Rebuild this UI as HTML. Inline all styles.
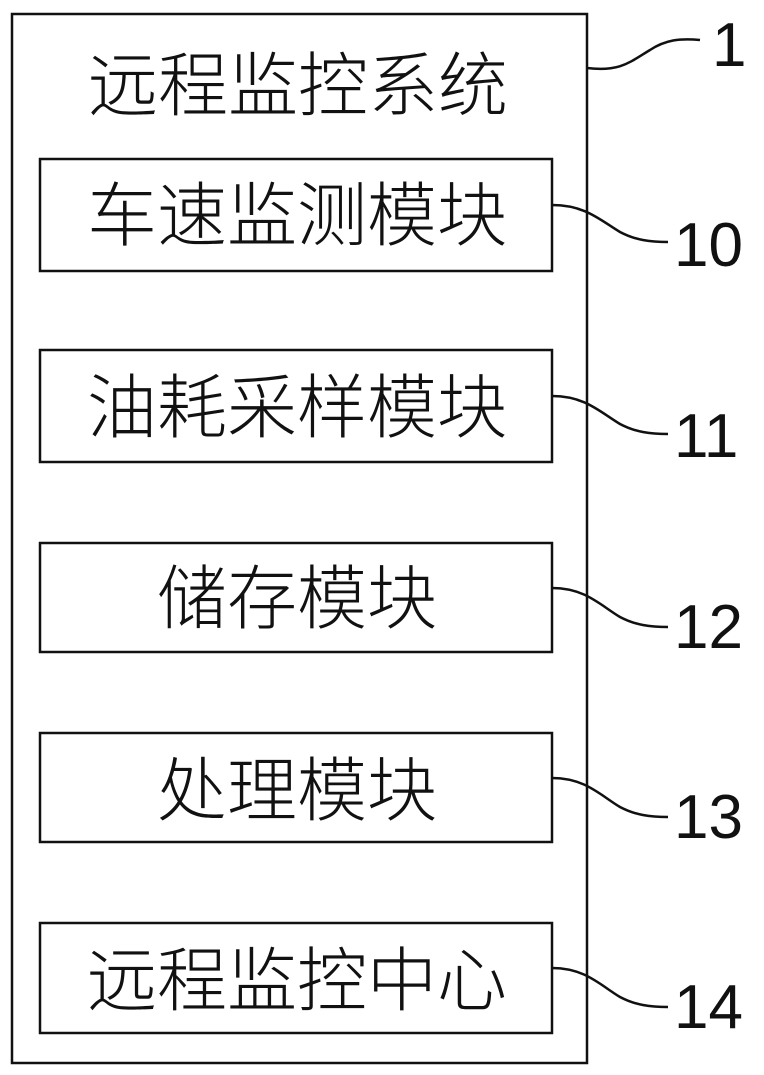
<!DOCTYPE html>
<html><head><meta charset="utf-8"><style>
html,body{margin:0;padding:0;background:#fff;}
svg{display:block}
text{font-family:"Liberation Sans","Noto Sans CJK SC",sans-serif;fill:#111;}
</style></head><body>
<svg width="764" height="1075" viewBox="0 0 764 1075" xmlns="http://www.w3.org/2000/svg">
<g fill="none" stroke="#111" stroke-width="2.5">
<rect x="12" y="14" width="575" height="1049"/>
<rect x="40" y="159" width="512" height="112"/>
<rect x="40" y="350" width="512" height="112"/>
<rect x="40" y="543" width="512" height="109"/>
<rect x="40" y="733" width="512" height="109"/>
<rect x="40" y="923" width="512" height="110"/>
<path d="M587 68 C620 72 630 62 650 50 C665 40 680 38 700 40"/>
<path d="M552 205 C585 205 600 220 620 232 C635 240 650 242 668 242"/>
<path d="M552 396 C585 396 600 412 620 424 C635 432 650 434 668 434"/>
<path d="M552 588 C585 588 600 605 620 617 C635 625 650 627 668 627"/>
<path d="M552 778 C585 778 600 795 620 807 C635 815 650 817 668 817"/>
<path d="M552 968 C585 968 600 985 620 997 C635 1005 650 1007 668 1007"/>
</g>
<g font-size="70" text-anchor="middle" font-weight="300">
<text x="298" y="110">远程监控系统</text>
<text x="297" y="240">车速监测模块</text>
<text x="297" y="432">油耗采样模块</text>
<text x="297" y="623">储存模块</text>
<text x="297" y="815">处理模块</text>
<text x="297" y="1005">远程监控中心</text>
</g>
<g font-size="62" font-family="Liberation Sans">
<text x="712" y="66">1</text>
<text x="674" y="266">10</text>
<text x="674" y="457">11</text>
<text x="674" y="648">12</text>
<text x="674" y="838">13</text>
<text x="674" y="1028">14</text>
</g>
</svg>
</body></html>
